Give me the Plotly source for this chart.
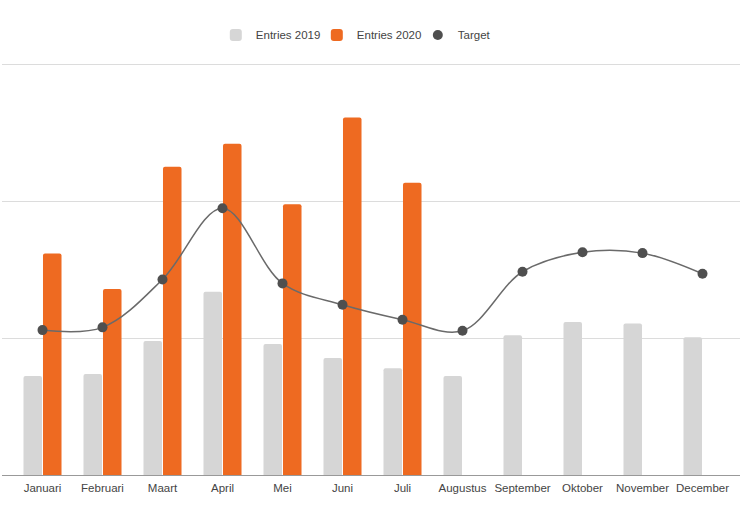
import plotly.graph_objects as go

months = ["Januari", "Februari", "Maart", "April", "Mei", "Juni", "Juli",
          "Augustus", "September", "Oktober", "November", "December"]
entries_2019 = [7.23, 7.37, 9.78, 13.38, 9.56, 8.54, 7.79, 7.23, 10.2, 11.17, 11.07, 10.05]
entries_2020 = [16.18, 13.58, 22.5, 24.18, 19.76, 26.11, 21.34, None, None, None, None, None]
target = [10.58, 10.78, 14.28, 19.47, 13.99, 12.43, 11.34, 10.53, 14.84, 16.26, 16.2, 14.69]

GRAY = "#d6d6d6"
ORANGE = "#ee6a21"
DARK = "#4f4f4f"

fig = go.Figure()
fig.add_trace(go.Bar(x=months, y=entries_2019, name="Entries 2019",
                     marker=dict(color=GRAY, line=dict(width=0))))
fig.add_trace(go.Bar(x=months, y=entries_2020, name="Entries 2020",
                     marker=dict(color=ORANGE, line=dict(width=0))))
fig.add_trace(go.Scatter(x=months, y=target, name="Target line", mode="lines",
                         showlegend=False, hoverinfo="skip",
                         line=dict(color="#6a6a6a", width=1.5, shape="spline", smoothing=1)))
fig.add_trace(go.Scatter(x=months, y=target, name="Target", mode="markers",
                         marker=dict(color=DARK, size=10)))

fig.update_layout(
    width=748, height=507,
    margin=dict(l=2, r=8, t=60, b=32),
    paper_bgcolor="white", plot_bgcolor="white",
    barmode="group", bargap=0.35, bargroupgap=0.05,
    barcornerradius=2,
    font=dict(family="Liberation Sans, Arial, sans-serif", size=11.5, color="#444"),
    legend=dict(orientation="h", x=0.495, xanchor="center", y=0.931, yanchor="middle",
                yref="container", font=dict(size=11.5, color="#444"),
                itemwidth=30, entrywidth=56, traceorder="normal"),
    showlegend=True,
)
fig.update_xaxes(range=[-0.675, 11.625], showgrid=False, showline=True,
                 linecolor="#999", linewidth=1, ticks="", ticklabelstandoff=2,
                 tickfont=dict(size=11.5, color="#444"), fixedrange=True)
fig.update_yaxes(range=[0, 30.3], tickvals=[10, 20, 30], showgrid=True,
                 gridcolor="#dcdcdc", gridwidth=1,
                 showticklabels=False, zeroline=False, ticks="", fixedrange=True)

fig.write_html("out.html")
